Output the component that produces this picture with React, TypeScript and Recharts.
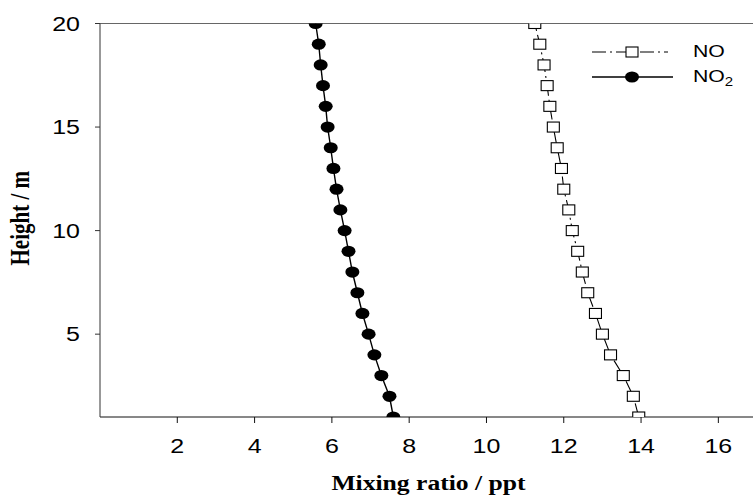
import React from 'react';
import {
  ScatterChart,
  Scatter,
  XAxis,
  YAxis,
  ReferenceLine
} from 'recharts';

// heights above ground (m)
const heights = [1, 2, 3, 4, 5, 6, 7, 8, 9, 10, 11, 12, 13, 14, 15, 16, 17, 18, 19, 20];
// mixing ratios (ppt)
const noValues = [13.94, 13.8, 13.54, 13.21, 13.0, 12.82, 12.62, 12.48, 12.36, 12.22, 12.13, 12.0, 11.94, 11.83, 11.73, 11.64, 11.57, 11.49, 11.38, 11.25];
const no2Values = [7.59, 7.49, 7.28, 7.1, 6.95, 6.79, 6.66, 6.53, 6.43, 6.33, 6.22, 6.12, 6.04, 5.97, 5.89, 5.84, 5.77, 5.71, 5.66, 5.58];
const xTicks = [2, 4, 6, 8, 10, 12, 14, 16];
const yTicks = [5, 10, 15, 20];

const noData = heights.map((h, i) => ({ x: noValues[i], y: h }));
const no2Data = heights.map((h, i) => ({ x: no2Values[i], y: h }));

const SANS = '"Liberation Sans", Arial, sans-serif';
const SERIF = '"Liberation Serif", "Times New Roman", serif';
const STRETCH = 1.25;

const SquareDot = (props: any) => {
  const { cx, cy } = props;
  return <rect x={cx - 6} y={cy - 5} width={12} height={10} fill="#fff" stroke="#000" strokeWidth={1.1} />;
};

const RoundDot = (props: any) => {
  const { cx, cy } = props;
  return <ellipse cx={cx} cy={cy} rx={7} ry={5.6} fill="#000" />;
};

const XTick = (props: any) => {
  const { x, y, payload } = props;
  return (
    <g transform={`translate(${x},${y}) scale(${STRETCH},1)`}>
      <text x={0} y={0} dy={14} textAnchor="middle" fontFamily={SANS} fontSize={20} fill="#000">
        {payload.value}
      </text>
    </g>
  );
};

const YTick = (props: any) => {
  const { x, y, payload } = props;
  return (
    <g transform={`translate(${x},${y}) scale(${STRETCH},1)`}>
      <text x={0} y={0} dy={7} textAnchor="end" fontFamily={SANS} fontSize={20} fill="#000">
        {payload.value}
      </text>
    </g>
  );
};

const XLabel = (props: any) => {
  const { viewBox } = props;
  const cx = viewBox.x + viewBox.width / 2;
  return (
    <g transform={`translate(${cx},${viewBox.y + 73}) scale(${STRETCH},1)`}>
      <text textAnchor="middle" fontFamily={SERIF} fontWeight="bold" fontSize={20.5} fill="#000">
        Mixing ratio / ppt
      </text>
    </g>
  );
};

const YLabel = (props: any) => {
  const { viewBox } = props;
  const cy = viewBox.y + viewBox.height / 2 - 2;
  return (
    <g transform={`translate(29,${cy}) scale(${STRETCH},1) rotate(-90)`}>
      <text textAnchor="middle" fontFamily={SERIF} fontWeight="bold" fontSize={21} fill="#000">
        Height / m
      </text>
    </g>
  );
};

// legend drawn as an overlay so it does not take space from the plot
const LegendBox = () => (
  <svg width={753} height={100} style={{ position: 'absolute', left: 0, top: 0, pointerEvents: 'none' }}>
    <line x1={592} y1={52} x2={668} y2={52} stroke="#000" strokeWidth={1.1} strokeDasharray="14 4 2 4" />
    <rect x={626} y={47} width={12} height={10} fill="#fff" stroke="#000" strokeWidth={1.1} />
    <line x1={592} y1={77} x2={673} y2={77} stroke="#000" strokeWidth={1.3} />
    <ellipse cx={632} cy={77} rx={7} ry={5.6} fill="#000" />
    <g transform={`translate(693,57) scale(${STRETCH},1)`}>
      <text fontFamily={SANS} fontSize={17} fill="#000">NO</text>
    </g>
    <g transform={`translate(693,82) scale(${STRETCH},1)`}>
      <text fontFamily={SANS} fontSize={17} fill="#000">
        NO<tspan fontSize={12} dy={4}>2</tspan>
      </text>
    </g>
  </svg>
);

export default function App() {
  return (
    <div style={{ position: 'absolute', left: 0, top: 0, width: 753, height: 497, overflow: 'hidden', background: '#fff' }}>
      <ScatterChart width={757} height={497} margin={{ top: 23.5, right: 0, left: 40, bottom: 50 }}>
        <XAxis
          type="number"
          dataKey="x"
          domain={[0, 17]}
          ticks={xTicks}
          allowDataOverflow
          height={30}
          tickSize={6}
          tickMargin={16}
          stroke="#111"
          tick={<XTick />}
          label={<XLabel />}
        />
        <YAxis
          type="number"
          dataKey="y"
          domain={[1, 20]}
          ticks={yTicks}
          allowDataOverflow
          width={60}
          tickSize={5}
          tickMargin={15}
          stroke="#333"
          tick={<YTick />}
          label={<YLabel />}
        />
        <ReferenceLine y={20} stroke="#666" strokeWidth={1.2} />
        <Scatter
          name="NO"
          data={noData}
          isAnimationActive={false}
          line={{ stroke: '#000', strokeWidth: 1.1, strokeDasharray: '14 4 2 4' }}
          lineType="joint"
          shape={<SquareDot />}
        />
        <Scatter
          name="NO2"
          data={no2Data}
          isAnimationActive={false}
          line={{ stroke: '#000', strokeWidth: 1.4 }}
          lineType="joint"
          shape={<RoundDot />}
        />
      </ScatterChart>
      <LegendBox />
    </div>
  );
}
